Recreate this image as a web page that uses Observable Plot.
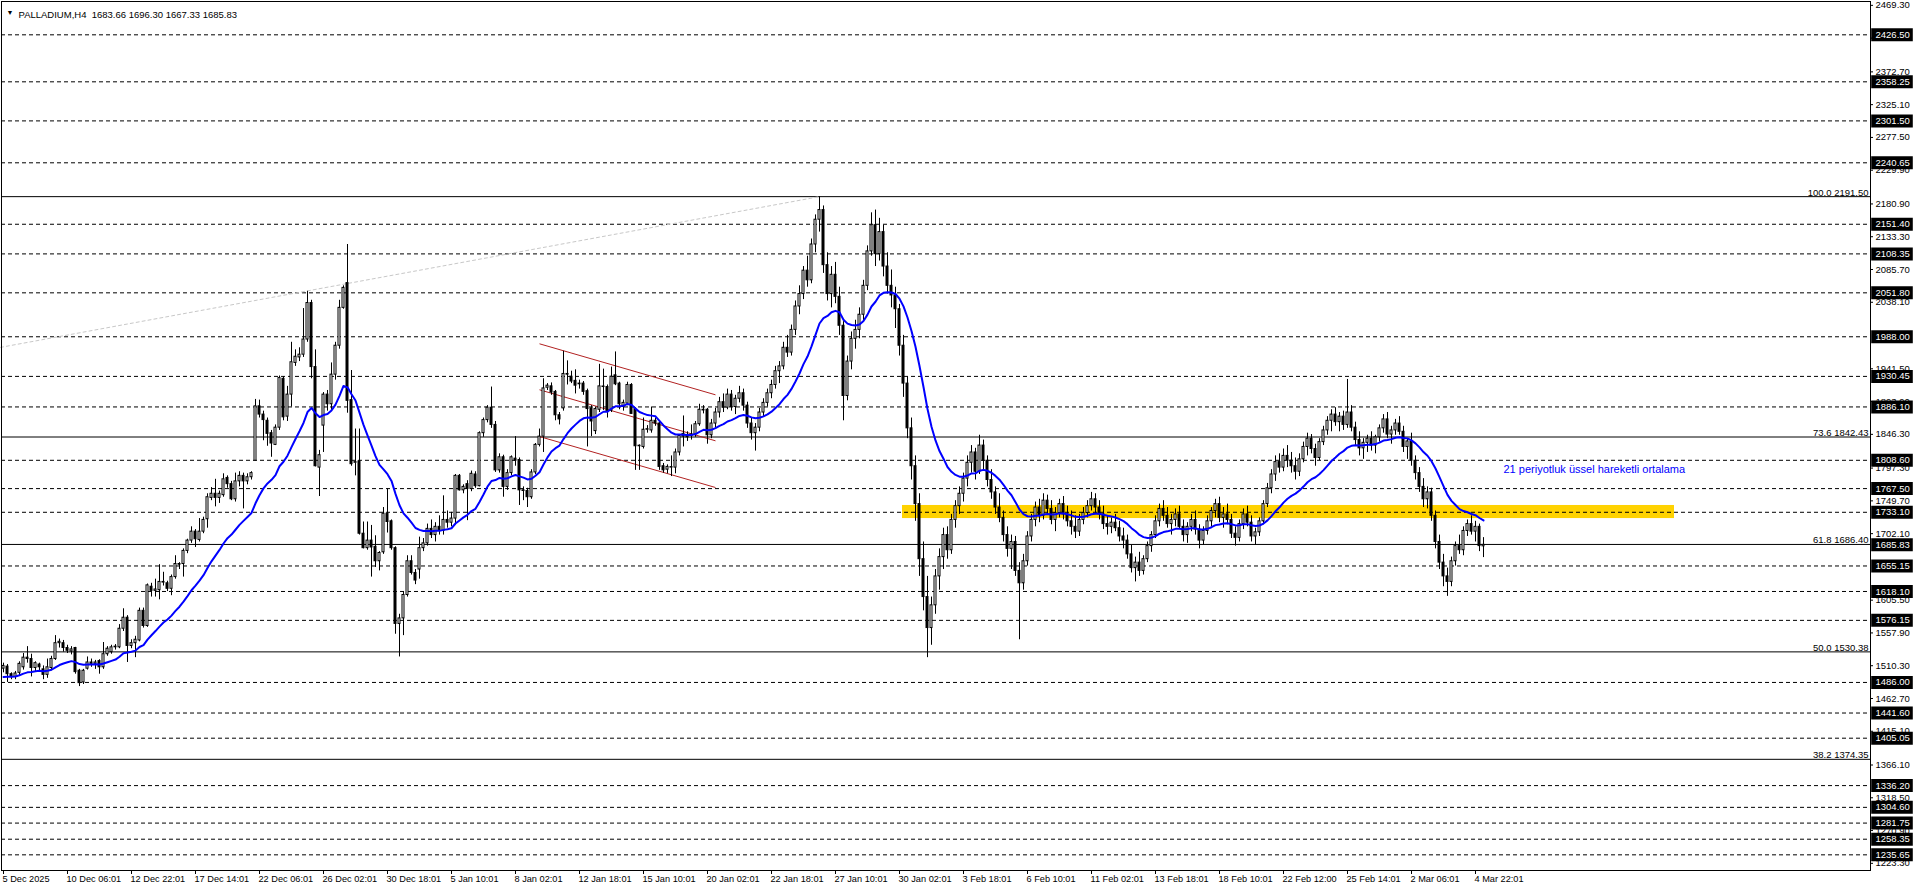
<!DOCTYPE html>
<html><head><meta charset="utf-8">
<script src="https://cdn.jsdelivr.net/npm/d3@7"></script>
<script src="https://cdn.jsdelivr.net/npm/@observablehq/plot@0.6"></script>
<style>html,body{margin:0;padding:0;background:#fff;overflow:hidden}</style>
</head><body><div id="chart"></div>
<script>
const symbolTitle = "PALLADIUM,H4  1683.66 1696.30 1667.33 1685.83";
const opens = [1506,1509,1498,1494,1500,1508,1522,1520,1507,1512,
1505,1497,1507,1520,1543,1543,1536,1531,1536,1503,
1486,1506,1515,1513,1517,1508,1527,1530,1537,1537,
1564,1580,1539,1543,1547,1590,1568,1625,1619,1620,
1631,1630,1622,1639,1658,1658,1677,1692,1705,1693,
1705,1723,1754,1760,1754,1758,1783,1774,1752,1778,
1786,1778,1784,1808,1887,1875,1866,1848,1831,1856,
1927,1872,1904,1950,1958,1962,1984,2037,1944,1798,
1859,1904,1890,1933,1975,2030,2066,1896,1805,1807,
1702,1681,1692,1683,1662,1675,1731,1720,1681,1571,
1579,1613,1662,1645,1650,1681,1688,1709,1700,1712,
1706,1722,1718,1724,1786,1765,1774,1767,1788,1771,
1848,1867,1885,1860,1794,1813,1770,1790,1811,1809,
1765,1764,1755,1791,1831,1843,1914,1916,1908,1874,
1884,1934,1930,1924,1920,1920,1909,1884,1851,1882,
1915,1915,1881,1932,1920,1886,1891,1918,1883,1829,
1828,1853,1852,1866,1862,1800,1795,1798,1798,1820,
1847,1844,1844,1846,1861,1882,1882,
1845,1862,1878,1893,1885,1904,1886,1898,1906,1888,
1862,1848,1856,1878,1892,1906,1918,1938,1945,1972,
1965,1998,2032,2050,2084,2070,2122,2158,2172,2092,
2050,2078,2046,2004,1902,1952,1985,1998,2020,2062,
2112,2150,2108,2140,2090,2062,2048,2028,1975,1920,
1855,1800,1745,1665,1610,1565,1598,1640,1668,1700,
1678,1722,1742,1760,1782,1805,1820,1792,1830,1808,
1780,1762,1740,1725,1700,1680,1690,1648,1630,1662,
1698,1722,1740,1728,1750,1738,1722,1732,1745,1730,
1720,1712,1705,1722,1732,1742,1752,1740,1730,1716,
1712,1718,1710,1698,1692,1672,1652,1660,1648,1665,
1684,1700,1720,1738,1728,1716,1722,1730,1712,1700,
1712,1722,1708,1692,1706,1720,1735,1745,1725,1730,
1722,1702,1696,1716,1730,1718,1698,1704,1720,1745,
1768,1788,1806,1798,1815,1808,1800,1792,1810,1828,
1840,1825,1812,1835,1852,1866,1875,1864,1872,1860,
1878,1856,1838,1826,1834,1840,1830,1842,1855,1868,
1846,1852,1862,1850,1828,1836,1808,1790,1770,1752,
1762,1728,1690,1660,1640,1632,1662,1684,1678,1706,
1716,1705,1712,1683.66];
const highs = [1514,1512,1500,1502,1516,1528,1538,1527,1516,1514,
1510,1520,1524,1554,1549,1547,1540,1538,1537,1505,
1505,1523,1520,1518,1519,1544,1538,1540,1541,1570,
1593,1583,1548,1553,1594,1594,1629,1630,1636,1657,
1646,1633,1642,1670,1660,1680,1694,1712,1708,1724,
1726,1760,1769,1781,1764,1789,1786,1778,1790,1792,
1790,1789,1792,1897,1896,1880,1870,1852,1860,1931,
1930,1916,1980,1969,1972,2029,2054,2041,1969,1823,
1907,1910,1950,1980,2041,2062,2122,1939,1854,1854,
1719,1719,1714,1699,1676,1740,1767,1722,1683,1585,
1618,1670,1670,1650,1697,1695,1716,1722,1718,1728,
1757,1735,1733,1788,1788,1773,1779,1793,1792,1850,
1870,1888,1915,1865,1818,1816,1795,1815,1843,1812,
1770,1768,1795,1833,1854,1927,1920,1921,1910,1878,
1967,1953,1938,1940,1925,1923,1912,1888,1886,1948,
1941,1918,1944,1966,1922,1896,1922,1920,1885,1831,
1870,1859,1886,1870,1865,1804,1802,1815,1825,1846,
1873,1850,1860,1865,1890,1888,1884,
1868,1884,1900,1905,1912,1910,1903,1916,1912,1893,
1870,1862,1884,1898,1912,1925,1945,1952,1980,1990,
2005,2040,2062,2090,2105,2130,2165,2191.5,2178,2110,
2090,2096,2060,2010,1960,1995,2012,2030,2070,2120,
2168,2172,2160,2150,2110,2085,2060,2035,1990,1930,
1870,1815,1760,1690,1640,1610,1650,1680,1710,1712,
1730,1750,1770,1790,1815,1830,1826,1845,1838,1815,
1795,1770,1760,1735,1712,1700,1698,1660,1672,1705,
1730,1748,1752,1760,1758,1750,1740,1752,1756,1742,
1735,1728,1730,1740,1750,1762,1760,1750,1742,1728,
1725,1730,1720,1710,1700,1685,1668,1675,1670,1690,
1705,1728,1745,1750,1740,1730,1738,1742,1722,1718,
1730,1735,1715,1712,1728,1740,1752,1755,1740,1745,
1730,1712,1722,1738,1742,1728,1710,1725,1750,1775,
1795,1815,1818,1825,1830,1820,1812,1818,1835,1848,
1846,1832,1840,1858,1872,1882,1885,1878,1880,1926,
1888,1864,1850,1840,1845,1850,1845,1860,1875,1878,
1858,1868,1872,1858,1840,1848,1815,1798,1782,1770,
1768,1735,1700,1672,1652,1668,1690,1700,1712,1722,
1728,1720,1716,1696.30];
const lows = [1500,1486,1490,1490,1496,1504,1514,1494,1502,1503,
1490,1492,1503,1518,1536,1530,1528,1526,1498,1480,
1483,1504,1508,1505,1498,1505,1524,1527,1533,1535,
1560,1515,1535,1522,1545,1565,1566,1610,1610,1606,
1626,1618,1612,1636,1650,1639,1673,1688,1682,1690,
1702,1710,1750,1741,1746,1755,1768,1750,1748,1770,
1738,1773,1780,1807,1870,1837,1829,1813,1830,1852,
1866,1865,1886,1945,1952,1958,1980,1927,1799,1756,
1820,1880,1880,1925,1970,2028,1877,1800,1786,1700,
1680,1678,1639,1653,1648,1672,1703,1678,1556,1523,
1554,1610,1642,1628,1636,1676,1684,1695,1690,1700,
1700,1710,1712,1715,1764,1760,1721,1763,1768,1770,
1842,1863,1855,1791,1790,1755,1765,1786,1800,1743,
1750,1740,1752,1788,1828,1820,1910,1903,1866,1860,
1880,1918,1920,1905,1912,1903,1828,1843,1846,1878,
1881,1870,1878,1917,1882,1880,1888,1876,1794,1794,
1825,1848,1848,1858,1794,1790,1789,1785,1789,1815,
1828,1836,1838,1842,1858,1876,1832,
1840,1855,1870,1878,1882,1880,1875,1892,1880,1855,
1838,1822,1850,1872,1886,1898,1912,1920,1940,1958,
1960,1990,2020,2042,2060,2065,2110,2140,2080,2040,
2030,2036,1990,1866,1895,1940,1970,1985,2010,2055,
2105,2090,2098,2075,2050,2030,2000,1960,1900,1840,
1780,1720,1640,1590,1522,1540,1585,1620,1650,1665,
1672,1710,1730,1748,1770,1790,1780,1788,1795,1770,
1752,1730,1718,1690,1668,1650,1640,1548,1620,1655,
1690,1712,1718,1722,1730,1715,1705,1725,1722,1712,
1700,1695,1698,1715,1725,1735,1730,1722,1708,1700,
1702,1705,1690,1680,1665,1645,1632,1640,1642,1660,
1675,1695,1712,1720,1710,1700,1712,1708,1690,1688,
1705,1700,1680,1685,1700,1712,1725,1718,1710,1715,
1695,1684,1690,1708,1712,1690,1685,1698,1715,1740,
1760,1778,1790,1792,1798,1790,1780,1785,1805,1815,
1818,1800,1808,1830,1845,1850,1858,1850,1852,1855,
1850,1830,1815,1810,1820,1822,1818,1835,1848,1840,
1832,1845,1845,1820,1810,1800,1780,1762,1740,1738,
1720,1680,1650,1625,1611,1625,1655,1672,1670,1698,
1700,1690,1676,1667.33];
const closes = [1510,1498,1494,1499,1513,1522,1520,1507,1514,1508,
1497,1508,1520,1543,1545,1536,1532,1534,1501,1485,
1503,1515,1513,1515,1508,1527,1535,1537,1538,1564,
1580,1539,1543,1548,1590,1568,1627,1619,1621,1632,
1632,1622,1639,1658,1657,1677,1692,1705,1694,1705,
1722,1755,1760,1754,1760,1781,1774,1752,1778,1786,
1778,1784,1790,1887,1875,1867,1847,1833,1856,1928,
1871,1904,1951,1959,1962,1984,2037,1944,1800,1816,
1904,1890,1933,1975,2030,2059,1895,1803,1806,1702,
1681,1692,1682,1662,1674,1731,1719,1681,1571,1579,
1613,1662,1645,1634,1681,1688,1709,1700,1712,1706,
1722,1718,1724,1786,1765,1770,1767,1789,1771,1848,
1867,1885,1860,1794,1813,1770,1790,1813,1808,1765,
1764,1755,1791,1831,1843,1913,1917,1907,1874,1868,
1934,1933,1923,1917,1919,1908,1883,1865,1883,1916,
1915,1880,1930,1919,1890,1892,1918,1876,1829,1829,
1853,1853,1866,1862,1799,1794,1799,1798,1820,1844,
1843,1842,1846,1861,1882,1881,1845,
1862,1878,1893,1885,1904,1886,1898,1906,1888,1862,
1848,1856,1878,1892,1906,1918,1938,1945,1972,1965,
1998,2032,2050,2084,2070,2122,2158,2172,2092,2050,
2078,2046,2004,1902,1952,1985,1998,2020,2062,2112,
2150,2108,2140,2090,2062,2048,2028,1975,1920,1855,
1800,1745,1665,1610,1565,1598,1640,1668,1700,1678,
1722,1742,1760,1782,1805,1820,1792,1830,1808,1780,
1762,1740,1725,1700,1680,1690,1648,1630,1662,1698,
1722,1740,1728,1750,1738,1722,1732,1745,1730,1720,
1712,1705,1722,1732,1742,1752,1740,1730,1716,1712,
1718,1710,1698,1692,1672,1652,1660,1648,1665,1684,
1700,1720,1738,1728,1716,1722,1730,1712,1700,1712,
1722,1708,1692,1706,1720,1735,1745,1725,1730,1722,
1702,1696,1716,1730,1718,1698,1704,1720,1745,1768,
1788,1806,1798,1815,1808,1800,1792,1810,1828,1840,
1825,1812,1835,1852,1866,1875,1864,1872,1860,1878,
1856,1838,1826,1834,1840,1830,1842,1855,1868,1846,
1852,1862,1850,1828,1836,1808,1790,1770,1752,1762,
1728,1690,1660,1640,1632,1662,1684,1678,1706,1716,
1705,1712,1684,1685.83];

const tickIndex = [0,16,32,48,64,80,96,112,128,144,160,176,192,208,224,240,256,272,288,304,320,336,352,368];
const tickLabels = ["5 Dec 2025","10 Dec 06:01","12 Dec 22:01","17 Dec 14:01","22 Dec 06:01","26 Dec 02:01","30 Dec 18:01","5 Jan 10:01","8 Jan 02:01","12 Jan 18:01","15 Jan 10:01","20 Jan 02:01","22 Jan 18:01","27 Jan 10:01","30 Jan 02:01","3 Feb 18:01","6 Feb 10:01","11 Feb 02:01","13 Feb 18:01","18 Feb 10:01","22 Feb 12:00","25 Feb 14:01","2 Mar 06:01","4 Mar 22:01"];
const priceTicks = [2469.30,2421.70,2372.70,2325.10,2277.50,2229.90,2180.90,2133.30,2085.70,2038.10,1941.50,1893.90,1846.30,1797.30,1749.70,1702.10,1605.50,1557.90,1510.30,1462.70,1415.10,1366.10,1318.50,1270.90,1223.30];
const levelLines = [2426.50,2358.25,2301.50,2240.65,2151.40,2108.35,2051.80,1988.00,1930.45,1886.10,1808.60,1767.50,1733.10,1655.15,1618.10,1576.15,1486.00,1441.60,1405.05,1336.20,1304.60,1281.75,1258.35,1235.65];
const bidPrice = 1685.83;
const fibValues = [2191.50,1842.43,1686.40,1530.38,1374.35];
const fibNames = ["100.0","73.6","61.8","50.0","38.2"];
const zoneBars = [224.75, 417.75];
const zonePrices = [1724, 1743];
const channelTop = [[134,1977.8],[178,1903.7]];
const channelMid = [[134,1911.0],[178,1836.9]];
const channelBot = [[134,1843.1],[178,1769.1]];
const fibTrend = [[-0.75,1972.6],[204,2191.5]];
const emaLabel = {bar: 375, price: 1795.3, text: "21 periyotluk üssel hareketli ortalama"};
const emaSeed = 1494;

// EMA(21) of the closes, as the chart's indicator
const k = 2 / 22;
const ema = [];
closes.forEach((c, i) => ema.push(i === 0 ? emaSeed : ema[i - 1] + k * (c - ema[i - 1])));

const idx = d3.range(closes.length);
const xDom = [-0.5, 466.75];
const yDom = [1212.9, 2474.9];
const pxPerUnit = 869 / (yDom[1] - yDom[0]);
const font = "'Liberation Sans', Arial, sans-serif";

const chart = Plot.plot({
  width: 1916, height: 888,
  marginLeft: 1, marginTop: 1, marginRight: 46, marginBottom: 18,
  x: {domain: xDom, axis: null},
  y: {domain: yDom, axis: null},
  style: {fontFamily: font, fontSize: "9.5px", background: "#fff", overflow: "visible"},
  marks: [
    Plot.rect([0], {x1: zoneBars[0], x2: zoneBars[1], y1: zonePrices[0], y2: zonePrices[1], fill: "#ffd200"}),
    Plot.ruleY(levelLines, {stroke: "#000", strokeWidth: 1, strokeDasharray: "4,3"}),
    Plot.ruleY(fibValues, {stroke: "#000", strokeWidth: 1}),
    Plot.line(fibTrend, {x: d => d[0], y: d => d[1], stroke: "#c8c8c8", strokeDasharray: "3,3", strokeWidth: 1}),
    ...[channelTop, channelMid, channelBot].map(c => Plot.link([c], {x1: d => d[0][0], y1: d => d[0][1], x2: d => d[1][0], y2: d => d[1][1], stroke: "#b22222", strokeWidth: 1})),
    Plot.ruleX(idx, {x: i => i, y1: i => lows[i], y2: i => highs[i], stroke: "#000", strokeWidth: 1}),
    Plot.rect(idx, {
      x1: i => i - 0.25, x2: i => i + 0.25,
      y1: i => Math.min(opens[i], closes[i]),
      y2: i => Math.max(opens[i], closes[i]) + (opens[i] === closes[i] ? 0.8 : 0),
      fill: i => closes[i] >= opens[i] ? "#fff" : "#000", stroke: "#000", strokeWidth: 1
    }),
    Plot.line(ema, {x: (d, i) => i, y: d => d, stroke: "#0000ff", strokeWidth: 2}),
    Plot.text([emaLabel], {x: d => d.bar, y: d => d.price, text: d => d.text, textAnchor: "start", fill: "#0000ff", fontSize: 11}),
    Plot.text(fibValues, {y: d => d, text: (d, i) => fibNames[i] + " " + d.toFixed(2), frameAnchor: "right", dx: -2, dy: -1, textAnchor: "end", lineAnchor: "bottom", fill: "#000"}),
    Plot.frame({stroke: "#000"}),
    // right price axis
    Plot.ruleY(priceTicks, {x1: xDom[1], x2: xDom[1] + 0.75, stroke: "#000"}),
    Plot.text(priceTicks, {y: d => d, text: d => d.toFixed(2), frameAnchor: "right", dx: 5, textAnchor: "start", fill: "#000"}),
    Plot.ruleY([...levelLines, bidPrice], {x1: xDom[1] + 0.3, x2: xDom[1] + 10.7, stroke: "#000", strokeWidth: 13}),
    Plot.text([...levelLines, bidPrice], {y: d => d, text: d => d.toFixed(2), frameAnchor: "right", dx: 5, textAnchor: "start", fill: "#fff"}),
    // time axis
    Plot.ruleX(tickIndex, {x: d => d, y1: yDom[0], y2: yDom[0] - 4 / pxPerUnit, stroke: "#000"}),
    Plot.text(tickIndex, {x: d => d, text: (d, i) => tickLabels[i], frameAnchor: "bottom", dy: 11, dx: -1, textAnchor: "start", fill: "#000", fontSize: 9.2}),
    // title
    Plot.text(["▼"], {frameAnchor: "top-left", dx: 5, dy: 9, textAnchor: "start", fontSize: 7, fill: "#000"}),
    Plot.text([symbolTitle], {frameAnchor: "top-left", dx: 17, dy: 10, textAnchor: "start", fill: "#000"})
  ]
});
document.getElementById("chart").appendChild(chart);
</script>
</body></html>
